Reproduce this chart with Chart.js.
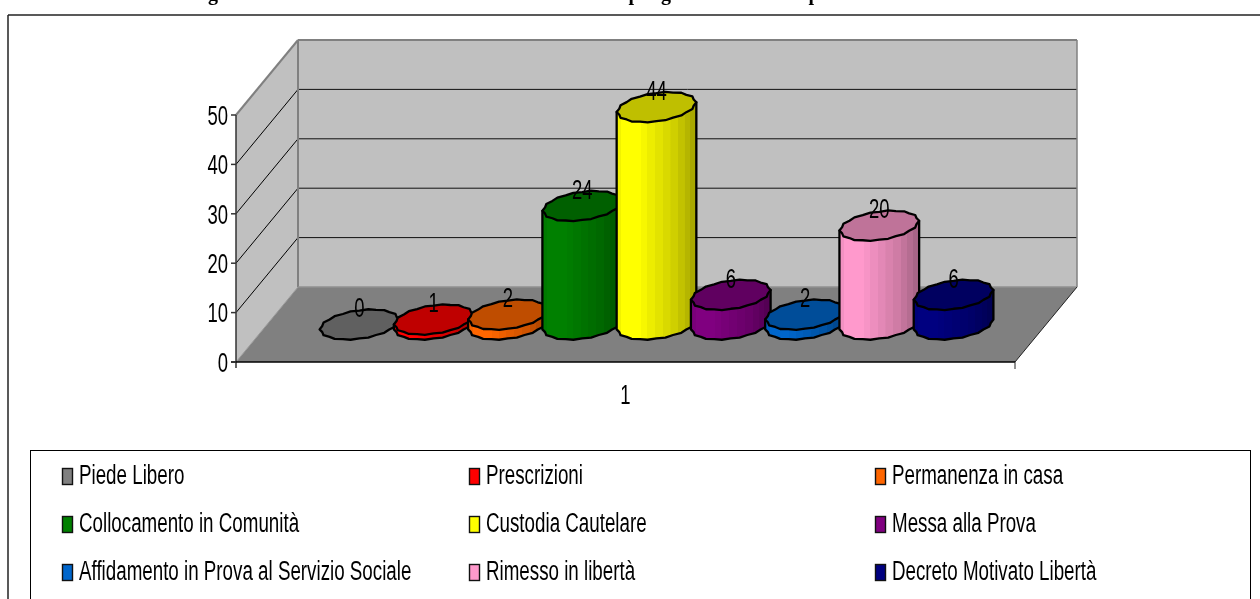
<!DOCTYPE html>
<html>
<head>
<meta charset="utf-8">
<script src="https://cdn.jsdelivr.net/npm/chart.js@4"></script>
<style>html,body{margin:0;padding:0;background:#fff;overflow:hidden}canvas{display:block}</style>
</head>
<body>
<canvas id="c" width="1260" height="599"></canvas>
<script>
const categories = ['1'];
const seriesNames = ['Piede Libero','Prescrizioni','Permanenza in casa','Collocamento in Comunità','Custodia Cautelare','Messa alla Prova','Affidamento in Prova al Servizio Sociale','Rimesso in libertà','Decreto Motivato Libertà'];
const seriesValues = [0,1,2,24,44,6,2,20,6];
const seriesColors = ['#808080','#ff0000','#ff6600','#008000','#ffff00','#800080','#0066cc','#ff99cc','#000080'];
const clippedTitleGlyphs = ['g','p','g','p'];
const clippedTitleX = [213,634,666,814];
const legendColX = [62,469,875];
const legendRowY = [476,524,572];
const DEPTH = {x:62,y:-75};
const FONT = 'Liberation Sans';

function rgb(h,f){
  const n=parseInt(h.slice(1),16);
  return `rgb(${Math.round((n>>16&255)*f)},${Math.round((n>>8&255)*f)},${Math.round((n&255)*f)})`;
}
function txt(ctx,s,x,y,size,sx,align){
  ctx.save();
  ctx.translate(x,y);ctx.scale(sx,1);
  ctx.font=`${size}px "${FONT}"`;ctx.fillStyle='#000';
  ctx.textAlign=align||'left';ctx.textBaseline='middle';
  ctx.fillText(s,0,0);ctx.restore();
}
function line(ctx,x1,y1,x2,y2,c,w){
  ctx.strokeStyle=c;ctx.lineWidth=w;ctx.beginPath();ctx.moveTo(x1,y1);ctx.lineTo(x2,y2);ctx.stroke();
}
function poly(ctx,p,fill){
  ctx.fillStyle=fill;ctx.beginPath();p.forEach((q,i)=>i?ctx.lineTo(q[0],q[1]):ctx.moveTo(q[0],q[1]));ctx.closePath();ctx.fill();
}
function cylinder(ctx,cx,yBase,yTop,r,color){
  const b=DEPTH.x*0.2, c=-DEPTH.y*0.2, a=Math.sqrt(r*r-b*b), t0=Math.atan2(b,a), N=28;
  // stepped outline, as the faceted cylinders of the original have
  const pt=(t,cy)=>{
    const k=1+0.022*Math.cos(7*(t-t0)*2);
    return [cx+k*(a*Math.cos(t)+b*Math.sin(t)),cy-k*c*Math.sin(t)];
  };
  const front=[];
  for(let i=0;i<=N/2;i++)front.push(t0+Math.PI+i*2*Math.PI/N);
  const base=front.map(t=>pt(t,yBase)), top=front.map(t=>pt(t,yTop));
  const g=ctx.createLinearGradient(cx-r,0,cx+r,0);
  const bands=[[0,.95],[.05,1],[.18,1],[.3,.97],[.38,.93],[.48,.89],[.58,.85],[.68,.81],[.78,.76],[.86,.71],[.93,.66],[1,.62]];
  bands.forEach((s,i)=>{
    g.addColorStop(s[0],rgb(color,s[1]));
    if(i<bands.length-1)g.addColorStop(bands[i+1][0]-0.001,rgb(color,s[1]));
  });
  ctx.lineJoin='round';ctx.lineCap='round';
  if(yBase-yTop>0.5){
    poly(ctx,base.concat(top.slice().reverse()),g);
    ctx.strokeStyle='#000';ctx.lineWidth=2.3;ctx.beginPath();
    ctx.moveTo(top[0][0],top[0][1]);
    base.forEach(p=>ctx.lineTo(p[0],p[1]));
    ctx.lineTo(top[top.length-1][0],top[top.length-1][1]);
    ctx.stroke();
  }
  const ring=[];for(let i=0;i<N;i++)ring.push(pt(t0+i*2*Math.PI/N,yTop));
  poly(ctx,ring,rgb(color,.75));
  ctx.strokeStyle='#000';ctx.lineWidth=2.3;ctx.closePath();ctx.stroke();
}
const scene={
  id:'scene',
  beforeDraw(chart){
    const ctx=chart.ctx,{left:l,right:r,bottom:bt,top:tp}=chart.chartArea,y=chart.scales.y,dx=DEPTH.x,dy=DEPTH.y;
    ctx.save();
    ctx.fillStyle='#fff';ctx.fillRect(0,0,chart.width,chart.height);
    // page title clipped by the top edge
    ctx.font='bold 20px "Liberation Serif"';ctx.fillStyle='#000';ctx.textBaseline='alphabetic';ctx.textAlign='center';
    clippedTitleGlyphs.forEach((g,i)=>ctx.fillText(g,clippedTitleX[i],0));
    // outer frame
    line(ctx,8,15,1260,15,'#222',1.5);line(ctx,8,15,8,599,'#222',1.5);
    // walls
    poly(ctx,[[l,tp],[l+dx,tp+dy],[l+dx,bt+dy],[l,bt]],'#c0c0c0');
    poly(ctx,[[l+dx,tp+dy],[r+dx,tp+dy],[r+dx,bt+dy],[l+dx,bt+dy]],'#c0c0c0');
    poly(ctx,[[l,bt],[l+dx,bt+dy],[r+dx,bt+dy],[r,bt]],'#808080');
    y.ticks.forEach(t=>{
      const v=t.value,py=y.getPixelForValue(v);
      if(v>0&&v<50){
        line(ctx,l,py,l+dx,py+dy,'#000',1);
        line(ctx,l+dx,py+dy,r+dx,py+dy,'#111',1);
      }
    });
    line(ctx,l,tp,l+dx,tp+dy,'#808080',2);
    line(ctx,l+dx,tp+dy,r+dx,tp+dy,'#808080',2);
    line(ctx,l+dx,tp+dy,l+dx,bt+dy,'#808080',2);
    line(ctx,r+dx,tp+dy,r+dx,bt+dy,'#808080',1.5);
    line(ctx,l+dx,bt+dy,r+dx,bt+dy,'#909090',1.5);
    line(ctx,l,bt,l+dx,bt+dy,'#9a9a9a',1);
    line(ctx,r,bt,r+dx,bt+dy,'#222',1);
    // axes
    line(ctx,l,tp,l,bt+6,'#333',1.5);
    line(ctx,l-5,bt,r,bt,'#000',1.5);
    line(ctx,r,bt,r,bt+7,'#222',1);
    y.ticks.forEach(t=>{
      const py=y.getPixelForValue(t.value);
      line(ctx,l-5,py,l,py,'#333',1.5);
      txt(ctx,String(t.value),l-8,py+2,28,0.66,'right');
    });
    txt(ctx,categories[0],(l+r)/2,396,28,0.66,'center');
    // legend box
    ctx.strokeStyle='#000';ctx.lineWidth=1;ctx.strokeRect(30.5,450.5,1220,160);
    seriesNames.forEach((n,i)=>{
      const cx=legendColX[i%3],cy=legendRowY[Math.floor(i/3)];
      ctx.fillStyle=seriesColors[i];ctx.fillRect(cx+.5,cy-7.5,10,16);
      ctx.strokeStyle='#111';ctx.lineWidth=1.4;ctx.strokeRect(cx+.5,cy-7.5,10,16);
      txt(ctx,n,cx+17,cy+1,27,0.695);
    });
    ctx.restore();
  },
  beforeDatasetsDraw(){return false;},
  afterDraw(chart){
    const ctx=chart.ctx,y=chart.scales.y;
    ctx.save();
    const items=seriesValues.map((v,i)=>{
      const el=chart.getDatasetMeta(i).data[0];
      return {x:el.x+DEPTH.x/2,yt:y.getPixelForValue(v)+DEPTH.y/2,yb:y.getPixelForValue(0)+DEPTH.y/2,r:el.width*0.525,c:seriesColors[i],v};
    });
    items.forEach(it=>cylinder(ctx,it.x,it.yb,it.yt,it.r,it.c));
    items.forEach(it=>txt(ctx,String(it.v),it.x,it.yt-15,28,0.66,'center'));
    ctx.restore();
  }
};
new Chart(document.getElementById('c'),{
  type:'bar',
  data:{labels:categories,datasets:seriesNames.map((n,i)=>({label:n,data:[seriesValues[i]],backgroundColor:seriesColors[i],borderColor:'#000',borderWidth:1,barPercentage:1,categoryPercentage:0.858}))},
  options:{
    responsive:false,animation:false,
    layout:{padding:{left:228,right:245,top:115,bottom:229}},
    plugins:{legend:{display:false},title:{display:false},tooltip:{enabled:false}},
    scales:{
      x:{grid:{display:false},border:{display:false},ticks:{display:false}},
      y:{min:0,max:50,grid:{display:false},border:{display:false},ticks:{display:false,stepSize:10}}
    }
  },
  plugins:[scene]
});
</script>
</body>
</html>
